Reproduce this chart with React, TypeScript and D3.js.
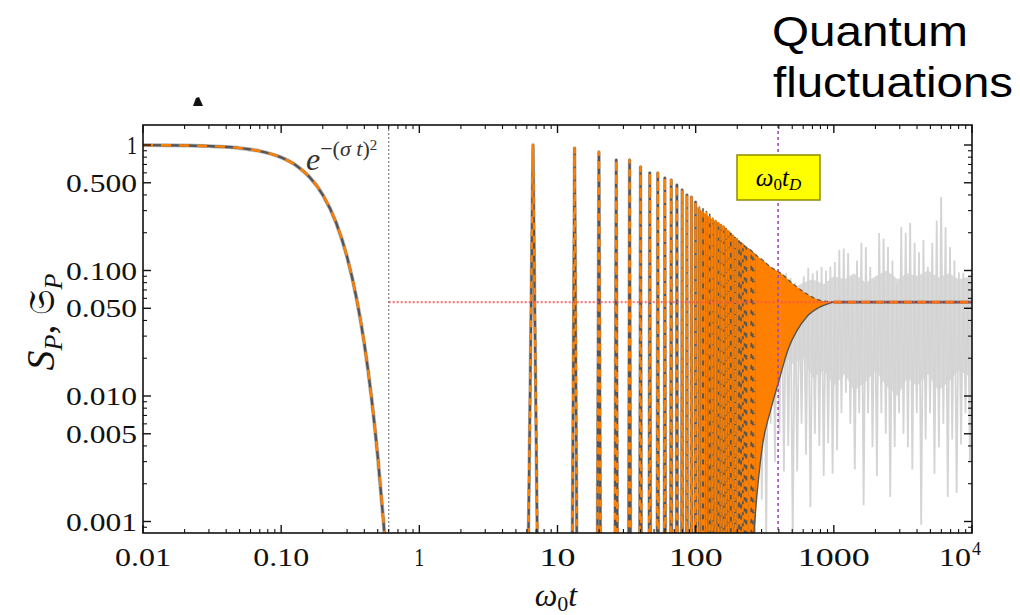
import React from "react";
import * as d3 from "d3";

// ---------- data ----------
const xTickValues = [0.01, 0.1, 1, 10, 100, 1000];
const xTickLabels = ["0.01", "0.10", "1", "10", "100", "1000"];
const xTickLabelWidths = [56, 56, 10, 36, 54, 72];
const yTickValues = [1, 0.5, 0.1, 0.05, 0.01, 0.005, 0.001];
const yTickLabels = ["1", "0.500", "0.100", "0.050", "0.010", "0.005", "0.001"];
const yTickLabelWidths = [10, 71, 71, 71, 71, 71, 71];

// Gaussian decay e^{-(σ t)^2}
const gaussT = [0.01, 0.02, 0.03, 0.05, 0.07, 0.1, 0.13, 0.16, 0.2, 0.25, 0.3, 0.35, 0.4, 0.45, 0.5, 0.55, 0.58];
const gaussV = [0.998, 0.991, 0.98, 0.945, 0.894, 0.796, 0.68, 0.557, 0.401, 0.24, 0.128, 0.061, 0.026, 0.0098, 0.0033, 0.001, 0.00046];

// revival spikes, resolved (peak times and heights)
const spikeT = [6.65, 13.3, 19.95, 26.6, 33.25, 39.9, 46.55, 53.2, 59.85, 66.5, 73.15, 79.8, 86.45, 93.1, 99.75];
const spikePeak = [1.0, 0.946, 0.88, 0.76, 0.76, 0.668, 0.6, 0.598, 0.546, 0.526, 0.48, 0.438, 0.4, 0.385, 0.351];
// revival spikes inside the dense region
const denseSpikeT = [106.4, 113.05, 119.7, 126.35, 133, 139.65, 146.3, 152.95, 159.6, 166.25, 172.9, 179.55, 186.2, 192.85, 199.5,
  206.15, 212.8, 219.45, 226.1, 232.75, 239.4, 246.05, 252.7, 259.35, 266.0];
const denseSpikePeak = [0.32, 0.31, 0.295, 0.28, 0.26, 0.25, 0.24, 0.232, 0.225, 0.215, 0.205, 0.198, 0.19, 0.183, 0.178,
  0.172, 0.167, 0.162, 0.157, 0.153, 0.149, 0.145, 0.142, 0.138, 0.135];
const spikeHalfWidth = 0.55;
const spikeFloor = 0.0003;

// dense oscillation envelope
const bandT = [100, 130, 160, 200, 247, 280, 306, 344, 396, 420, 470, 540, 640, 790, 940, 1000];
const bandHi = [0.33, 0.26, 0.225, 0.178, 0.147, 0.13, 0.121, 0.108, 0.098, 0.094, 0.084, 0.074, 0.065, 0.058, 0.0565, 0.056];
const bandLo = [0.0003, 0.0003, 0.0003, 0.0003, 0.0003, 0.0018, 0.0042, 0.0073, 0.0127, 0.016, 0.024, 0.033, 0.043, 0.051, 0.055, 0.056];

// plateau
const plateauT = [1000, 10000];
const plateauV = [0.056, 0.056];
const asymptote = 0.056;
const asymptoteStart = 0.6;

// quantum-fluctuation noise
const noiseT = [250, 259, 269, 279, 290, 301, 312, 324, 336, 349, 362, 375, 389, 404, 419, 435, 451, 468, 486, 504,
  523, 543, 563, 584, 606, 629, 653, 677, 703, 729, 757, 785, 815, 845, 877, 910, 944, 980, 1017, 1055,
  1095, 1136, 1179, 1223, 1269, 1317, 1366, 1418, 1471, 1526, 1584, 1643, 1705, 1769, 1836, 1905, 1976, 2051, 2128, 2208,
  2291, 2377, 2466, 2559, 2655, 2755, 2858, 2966, 3077, 3193, 3313, 3437, 3567, 3701, 3840, 3984, 4134, 4289, 4451, 4618,
  4791, 4971, 5158, 5352, 5554, 5762, 5979, 6204, 6437, 6679, 6930, 7191, 7461, 7742, 8033, 8335, 8648, 8973, 9311, 9661, 10000];
const noiseV = [0.07, 0.0025, 0.075, 0.004, 0.08, 0.0015, 0.085, 0.0007, 0.08, 0.006,
  0.09, 0.003, 0.085, 0.005, 0.09, 0.0025, 0.095, 0.004, 0.087, 0.0007,
  0.08, 0.0025, 0.073, 0.006, 0.09, 0.0034, 0.105, 0.0013, 0.095, 0.005,
  0.1, 0.004, 0.107, 0.0023, 0.1, 0.0042, 0.107, 0.0024, 0.117, 0.0037,
  0.146, 0.0073, 0.15, 0.0106, 0.138, 0.006, 0.089, 0.0026, 0.12, 0.0073,
  0.166, 0.00135, 0.154, 0.0073, 0.107, 0.0039, 0.084, 0.0023, 0.199, 0.0073,
  0.18, 0.005, 0.154, 0.00157, 0.12, 0.0039, 0.079, 0.0073, 0.222, 0.005,
  0.2, 0.0039, 0.24, 0.0026, 0.166, 0.0073, 0.14, 0.00094, 0.175, 0.0045,
  0.107, 0.0073, 0.166, 0.0024, 0.25, 0.0039, 0.385, 0.006, 0.222, 0.00157,
  0.154, 0.0045, 0.12, 0.00169, 0.097, 0.0041, 0.096, 0.0073, 0.084, 0.003, 0.1];
const coreT = [420, 500, 600, 700, 850, 1000, 1200, 1400, 1700, 2000, 2400, 2900, 3400, 4000, 4800, 5700, 6800, 8000, 10000];
const coreHi = [0.065, 0.072, 0.08, 0.085, 0.078, 0.09, 0.085, 0.095, 0.08, 0.09, 0.1, 0.085, 0.095, 0.09, 0.1, 0.088, 0.095, 0.085, 0.09];
const coreLo = [0.022, 0.018, 0.02, 0.014, 0.016, 0.012, 0.015, 0.011, 0.013, 0.016, 0.012, 0.01, 0.014, 0.012, 0.015, 0.011, 0.013, 0.016, 0.014];

const decoherenceT = 395;

// ---------- styles ----------
const SERIF = "'Liberation Serif', 'Times New Roman', serif";
const SANS = "'Liberation Sans', Arial, sans-serif";
const ORANGE = "#ff8000";
const DARK = "#555555";
const HALO = "#bdbdbd";

export default function App() {
  const left = 143, right = 972, top = 125, bottom = 533;
  const x = d3.scaleLog().domain([0.01, 10000]).range([left, right]);
  const y = d3.scaleLog().domain([0.001, 1]).range([521.5, 145]);

  const line = d3.line<[number, number]>().x((d) => x(d[0])).y((d) => y(d[1]));
  const smooth = d3.line<[number, number]>().x((d) => x(d[0])).y((d) => y(d[1])).curve(d3.curveMonotoneX);

  const gaussPath = smooth(gaussT.map((t, i) => [t, gaussV[i]])) || "";

  const spikeLine = (ts: number[], ps: number[]) => {
    const pts: [number, number][] = [];
    ts.forEach((t, i) => {
      pts.push([t - spikeHalfWidth, spikeFloor], [t, ps[i]], [t + spikeHalfWidth, spikeFloor]);
    });
    return line(pts) || "";
  };
  const spikePath = spikeLine(spikeT, spikePeak);
  const denseSpikePath = spikeLine(denseSpikeT, denseSpikePeak);

  const band = d3.area<number>()
    .x((_, i) => x(bandT[i]))
    .y0((_, i) => y(bandLo[i]))
    .y1((_, i) => y(bandHi[i]))
    .curve(d3.curveMonotoneX);
  const bandPath = band(bandT) || "";
  const bandHiPath = smooth(bandT.map((t, i) => [t, bandHi[i]]).filter((d) => d[0] >= 240) as [number, number][]) || "";
  const bandLoPath = smooth(bandT.map((t, i) => [t, bandLo[i]]).filter((d) => d[0] >= 247) as [number, number][]) || "";

  const plateauPath = line(plateauT.map((t, i) => [t, plateauV[i]])) || "";

  const noisePath = line(noiseT.map((t, i) => [t, noiseV[i]])) || "";
  const core = d3.area<number>()
    .x((_, i) => x(coreT[i]))
    .y0((_, i) => y(coreLo[i]))
    .y1((_, i) => y(coreHi[i]));
  const corePath = core(coreT) || "";

  // ticks
  const xMinor: number[] = [];
  [0.01, 0.1, 1, 10, 100, 1000].forEach((d) => {
    for (let k = 2; k <= 9; k++) xMinor.push(d * k);
  });
  const yMinor: number[] = [];
  [0.0001, 0.001, 0.01, 0.1].forEach((d) => {
    for (let k = 2; k <= 9; k++) {
      const v = d * k;
      if (yTickValues.some((m) => Math.abs(m - v) / v < 1e-6)) continue;
      const py = y(v);
      if (py > top && py < bottom) yMinor.push(v);
    }
  });
  const xMajorAll = [...xTickValues, 10000];

  const tickColor = "#111";
  const majorLen = 8, minorLen = 4;

  const xLabelBaseline = 566;
  const fsTick = 26;

  return (
    <svg width={1020} height={615} style={{ position: "absolute", left: 0, top: 0, background: "#fff" }}>
      <defs>
        <clipPath id="plotClip">
          <rect x={left} y={top} width={right - left} height={bottom - top} />
        </clipPath>
      </defs>
      <rect x={0} y={0} width={1020} height={615} fill="#fff" />

      {/* header text */}
      <text x={772} y={46} fontFamily={SANS} fontSize={42} textLength={196} lengthAdjust="spacingAndGlyphs" fill="#000">Quantum</text>
      <text x={773} y={97} fontFamily={SANS} fontSize={42} textLength={240} lengthAdjust="spacingAndGlyphs" fill="#000">fluctuations</text>
      <path d="M193,106 L196,98 L199,97 L203,106 Z" fill="#111" />

      <g clipPath="url(#plotClip)">
        {/* noise */}
        <path d={corePath} fill="#dadada" />
        <path d={noisePath} fill="none" stroke="#d4d4d4" strokeWidth={1.8} />

        {/* vertical reference line */}
        <line x1={x(asymptoteStart)} x2={x(asymptoteStart)} y1={top} y2={bottom} stroke="#8a8a8a" strokeWidth={1.3} strokeDasharray="2 2" />

        {/* gaussian */}
        <path d={gaussPath} fill="none" stroke={HALO} strokeWidth={4} />
        <path d={gaussPath} fill="none" stroke={DARK} strokeWidth={2.4} />
        <path d={gaussPath} fill="none" stroke={ORANGE} strokeWidth={2.4} strokeDasharray="10 8" />

        {/* dense band */}
        <path d={bandPath} fill={ORANGE} />
        <path d={denseSpikePath} fill="none" stroke={DARK} strokeWidth={1.6} strokeLinejoin="round" />
        <path d={denseSpikePath} fill="none" stroke={ORANGE} strokeWidth={1.6} strokeDasharray="6 5" strokeLinejoin="round" />

        {/* resolved spikes */}
        <path d={spikePath} fill="none" stroke={HALO} strokeWidth={3.6} strokeLinejoin="round" />
        <path d={spikePath} fill="none" stroke={DARK} strokeWidth={2.3} strokeLinejoin="round" />
        <path d={spikePath} fill="none" stroke={ORANGE} strokeWidth={2.3} strokeDasharray="7 6" strokeLinejoin="round" />

        <path d={bandHiPath} fill="none" stroke={DARK} strokeWidth={1.2} strokeDasharray="4 3" />
        <path d={bandLoPath} fill="none" stroke={DARK} strokeWidth={1.4} />

        {/* plateau */}
        <path d={plateauPath} fill="none" stroke={DARK} strokeWidth={2.6} />
        <path d={plateauPath} fill="none" stroke={ORANGE} strokeWidth={2.6} strokeDasharray="8 6" />

        {/* asymptote */}
        <line x1={x(asymptoteStart)} x2={right} y1={y(asymptote)} y2={y(asymptote)} stroke="#ff4d4d" strokeOpacity={0.75} strokeWidth={2.4} strokeDasharray="2 2" />

        {/* decoherence time */}
        <line x1={x(decoherenceT)} x2={x(decoherenceT)} y1={top} y2={bottom} stroke="#9b4fb5" strokeWidth={1.6} strokeDasharray="3 3" />
      </g>

      {/* label box */}
      <rect x={737} y={155} width={83} height={45} fill="#ffff00" stroke="#8c8c00" strokeWidth={1.5} />
      <text x={778.5} y={186} textAnchor="middle" fontFamily={SERIF} fontSize={25} fontStyle="italic" fill="#000">
        ω<tspan fontSize={17} dy={4} fontStyle="normal">0</tspan><tspan dy={-4}>t</tspan><tspan fontSize={17} dy={4}>D</tspan>
      </text>

      {/* gaussian label */}
      <text x={306} y={170} fontFamily={SERIF} fontSize={32} fontStyle="italic" fill="#333">
        e<tspan fontSize={22} dy={-14} fontStyle="normal">−(</tspan><tspan fontSize={22}>σ t</tspan><tspan fontSize={22} fontStyle="normal">)</tspan><tspan fontSize={15} dy={-6} fontStyle="normal">2</tspan>
      </text>

      {/* frame */}
      <rect x={left} y={top} width={right - left} height={bottom - top} fill="none" stroke="#111" strokeWidth={1.6} />

      {/* x ticks */}
      {xMajorAll.map((v, i) => (
        <g key={"xM" + i}>
          <line x1={x(v)} x2={x(v)} y1={bottom} y2={bottom - majorLen} stroke={tickColor} strokeWidth={1.4} />
          <line x1={x(v)} x2={x(v)} y1={top} y2={top + majorLen} stroke={tickColor} strokeWidth={1.4} />
        </g>
      ))}
      {xMinor.map((v, i) => (
        <g key={"xm" + i}>
          <line x1={x(v)} x2={x(v)} y1={bottom} y2={bottom - minorLen} stroke={tickColor} strokeWidth={1.1} />
          <line x1={x(v)} x2={x(v)} y1={top} y2={top + minorLen} stroke={tickColor} strokeWidth={1.1} />
        </g>
      ))}
      {/* y ticks */}
      {yTickValues.map((v, i) => (
        <g key={"yM" + i}>
          <line x1={left} x2={left + majorLen} y1={y(v)} y2={y(v)} stroke={tickColor} strokeWidth={1.4} />
          <line x1={right} x2={right - majorLen} y1={y(v)} y2={y(v)} stroke={tickColor} strokeWidth={1.4} />
        </g>
      ))}
      {yMinor.map((v, i) => (
        <g key={"ym" + i}>
          <line x1={left} x2={left + minorLen} y1={y(v)} y2={y(v)} stroke={tickColor} strokeWidth={1.1} />
          <line x1={right} x2={right - minorLen} y1={y(v)} y2={y(v)} stroke={tickColor} strokeWidth={1.1} />
        </g>
      ))}

      {/* x tick labels */}
      {xTickValues.map((v, i) => (
        <text key={"xl" + i} x={x(v) - xTickLabelWidths[i] / 2} y={xLabelBaseline} fontFamily={SERIF} fontSize={fsTick}
          textLength={xTickLabelWidths[i]} lengthAdjust="spacingAndGlyphs" fill="#111">{xTickLabels[i]}</text>
      ))}
      <text x={x(10000) - 33} y={xLabelBaseline} fontFamily={SERIF} fontSize={fsTick} textLength={32} lengthAdjust="spacingAndGlyphs" fill="#111">10</text>
      <text x={x(10000) - 0} y={xLabelBaseline - 11} fontFamily={SERIF} fontSize={18} fill="#111">4</text>

      {/* y tick labels */}
      {yTickValues.map((v, i) => (
        <text key={"yl" + i} x={137 - yTickLabelWidths[i]} y={y(v) + 9} fontFamily={SERIF} fontSize={fsTick}
          textLength={yTickLabelWidths[i]} lengthAdjust="spacingAndGlyphs" fill="#111">{yTickLabels[i]}</text>
      ))}

      {/* axis titles */}
      <text x={556} y={606} textAnchor="middle" fontFamily={SERIF} fontSize={32} fontStyle="italic" fill="#111">
        ω<tspan fontSize={22} dy={5} fontStyle="normal">0</tspan><tspan dy={-5}>t</tspan>
      </text>
      <text transform="translate(54,322) rotate(-90)" textAnchor="middle" fontFamily={SERIF} fontSize={40} fill="#111">
        <tspan fontStyle="italic">S</tspan><tspan fontSize={26} dy={8} fontStyle="italic">P</tspan><tspan dy={-8}>, </tspan><tspan fontFamily="'DejaVu Serif', 'DejaVu Sans', serif" fontSize={36}>{"\u{1D516}"}</tspan><tspan fontSize={26} dy={8} fontStyle="italic">P</tspan>
      </text>
    </svg>
  );
}
